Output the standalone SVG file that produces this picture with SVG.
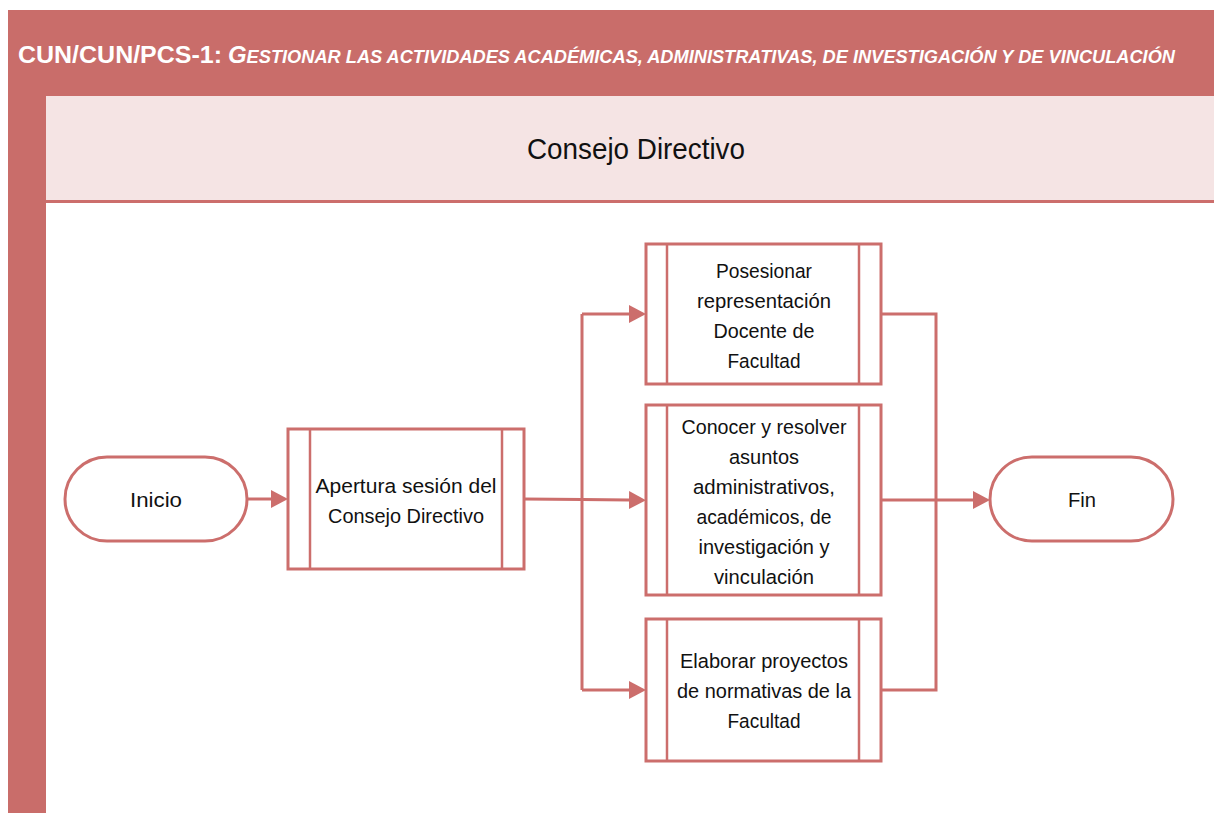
<svg xmlns="http://www.w3.org/2000/svg" width="1214" height="813" viewBox="0 0 1214 813">
<style>
.frame{fill:#c96d6a}
.lanehead{fill:#f5e4e4}
.node{fill:#ffffff;stroke:#cc6e6c;stroke-width:3}
.inner{fill:none;stroke:#cc6e6c;stroke-width:2.5}
.conn{fill:none;stroke:#cc6e6c;stroke-width:3}
.t{font-family:"Liberation Sans",Arial,sans-serif;font-size:20.5px;fill:#111;text-anchor:middle}
</style>
<defs>
<marker id="arr" markerUnits="userSpaceOnUse" markerWidth="18" markerHeight="20" refX="0" refY="9" orient="auto">
<path d="M0,0 L17,9 L0,18 z" fill="#cc6e6c"/>
</marker>
</defs>
<rect width="1214" height="813" fill="#ffffff"/>
<g id="pool">
<rect class="frame" x="8" y="10" width="1206" height="803"/>
<rect class="lanehead" x="46" y="96" width="1168" height="104"/>
<rect fill="#ffffff" x="46" y="203" width="1168" height="610"/>
<line x1="46" y1="201.5" x2="1214" y2="201.5" stroke="#cc6e6c" stroke-width="3"/>
<text x="18" y="63" font-family="'Liberation Sans',Arial,sans-serif" font-weight="bold" fill="#ffffff" font-size="24"><tspan textLength="204" lengthAdjust="spacingAndGlyphs">CUN/CUN/PCS-1:</tspan></text>
<text x="228" y="63" font-family="'Liberation Sans',Arial,sans-serif" font-weight="bold" font-style="italic" fill="#ffffff" font-size="17.5" textLength="947" lengthAdjust="spacingAndGlyphs"><tspan font-size="23">G</tspan>ESTIONAR LAS ACTIVIDADES ACADÉMICAS, ADMINISTRATIVAS, DE INVESTIGACIÓN Y DE VINCULACIÓN</text>
<text x="636" y="159" font-family="'Liberation Sans',Arial,sans-serif" font-size="29" fill="#111" text-anchor="middle" textLength="218" lengthAdjust="spacingAndGlyphs">Consejo Directivo</text>
</g>
<g id="connectors">
<path class="conn" d="M247 499 H271" marker-end="url(#arr)"/>
<path class="conn" d="M524 499 L582 499.5 L629 500" marker-end="url(#arr)"/>
<path class="conn" d="M582 314 V690"/>
<path class="conn" d="M582 314 H629" marker-end="url(#arr)"/>
<path class="conn" d="M582 690 H629" marker-end="url(#arr)"/>
<path class="conn" d="M881 314 H936 V690 H881"/>
<path class="conn" d="M881 500 H973" marker-end="url(#arr)"/>
</g>
<g id="inicio">
<rect class="node" x="65" y="457" width="182" height="84" rx="42"/>
<text class="t" x="156" y="507" textLength="52" lengthAdjust="spacingAndGlyphs">Inicio</text>
</g>
<g id="apertura">
<rect class="node" x="288" y="429" width="236" height="140"/>
<line class="inner" x1="310" y1="429" x2="310" y2="569"/>
<line class="inner" x1="502" y1="429" x2="502" y2="569"/>
<text class="t" x="406" y="493" textLength="181" lengthAdjust="spacingAndGlyphs">Apertura sesión del</text>
<text class="t" x="406" y="523" textLength="156" lengthAdjust="spacingAndGlyphs">Consejo Directivo</text>
</g>
<g id="posesionar">
<rect class="node" x="646" y="244" width="235" height="140"/>
<line class="inner" x1="667" y1="244" x2="667" y2="384"/>
<line class="inner" x1="859" y1="244" x2="859" y2="384"/>
<text class="t" x="764" y="278" textLength="96" lengthAdjust="spacingAndGlyphs">Posesionar</text>
<text class="t" x="764" y="308" textLength="134" lengthAdjust="spacingAndGlyphs">representación</text>
<text class="t" x="764" y="338" textLength="101" lengthAdjust="spacingAndGlyphs">Docente de</text>
<text class="t" x="764" y="368" textLength="73" lengthAdjust="spacingAndGlyphs">Facultad</text>
</g>
<g id="conocer">
<rect class="node" x="646" y="405" width="235" height="190"/>
<line class="inner" x1="667" y1="405" x2="667" y2="595"/>
<line class="inner" x1="859" y1="405" x2="859" y2="595"/>
<text class="t" x="764" y="434" textLength="165" lengthAdjust="spacingAndGlyphs">Conocer y resolver</text>
<text class="t" x="764" y="464" textLength="70" lengthAdjust="spacingAndGlyphs">asuntos</text>
<text class="t" x="764" y="494" textLength="142" lengthAdjust="spacingAndGlyphs">administrativos,</text>
<text class="t" x="764" y="524" textLength="135" lengthAdjust="spacingAndGlyphs">académicos, de</text>
<text class="t" x="764" y="554" textLength="131" lengthAdjust="spacingAndGlyphs">investigación y</text>
<text class="t" x="764" y="584" textLength="100" lengthAdjust="spacingAndGlyphs">vinculación</text>
</g>
<g id="elaborar">
<rect class="node" x="646" y="619" width="235" height="142"/>
<line class="inner" x1="667" y1="619" x2="667" y2="761"/>
<line class="inner" x1="859" y1="619" x2="859" y2="761"/>
<text class="t" x="764" y="668" textLength="168" lengthAdjust="spacingAndGlyphs">Elaborar proyectos</text>
<text class="t" x="764" y="698" textLength="174" lengthAdjust="spacingAndGlyphs">de normativas de la</text>
<text class="t" x="764" y="728" textLength="73" lengthAdjust="spacingAndGlyphs">Facultad</text>
</g>
<g id="fin">
<rect class="node" x="990" y="457" width="183" height="84" rx="42"/>
<text class="t" x="1082" y="507" textLength="28" lengthAdjust="spacingAndGlyphs">Fin</text>
</g>
</svg>
